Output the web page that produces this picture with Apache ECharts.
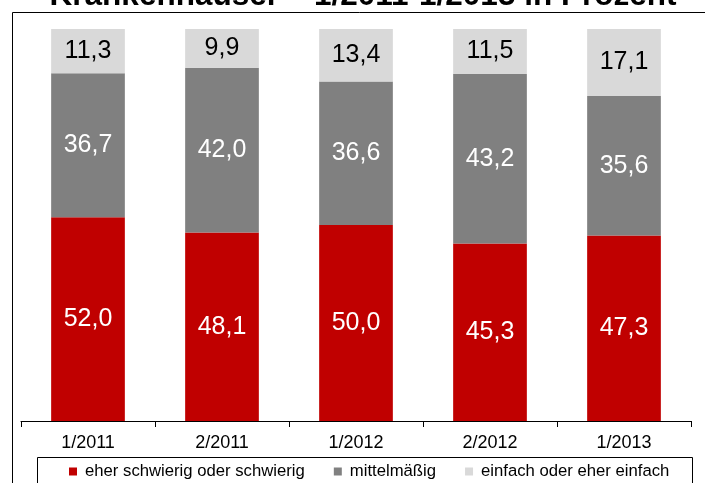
<!DOCTYPE html>
<html>
<head>
<meta charset="utf-8">
<script src="https://cdn.jsdelivr.net/npm/echarts@6/dist/echarts.min.js"></script>
<style>
    html, body { margin: 0; padding: 0; background: #fff; }
    #chart { width: 705px; height: 483px; }
</style>
</head>
<body>
<div id="chart"></div>
<script>
// Daten
const categories = ['1/2011', '2/2011', '1/2012', '2/2012', '1/2013']
const seriesNames = ['eher schwierig oder schwierig', 'mittelmäßig', 'einfach oder eher einfach']
const schwierig = [52.0, 48.1, 50.0, 45.3, 47.3]
const mittel = [36.7, 42.0, 36.6, 43.2, 35.6]
const einfach = [11.3, 9.9, 13.4, 11.5, 17.1]

const colors = ['#C00000', '#808080', '#D9D9D9']
const fontFamily = '"Liberation Sans", Arial, sans-serif'

const chart = echarts.init(document.getElementById('chart'))

// Segment-Serie erzeugen
const makeSeries = (name, data, color, labelColor) => ({
    name: name,
    type: 'bar',
    stack: 'total',
    barCategoryGap: '45%',
    data: data,
    itemStyle: { color: color },
    label: {
        show: true,
        position: 'inside',
        color: labelColor,
        fontFamily: fontFamily,
        fontSize: 25,
        formatter: (p) => p.value.toFixed(1).replace('.', ',')
    }
})

const option = {
    animation: false,
    backgroundColor: '#fff',
    grid: { left: 21, right: 14, top: 29, bottom: 62 },
    graphic: [
        {
            type: 'rect',
            shape: { x: 12.5, y: 12.5, width: 800, height: 600 },
            style: { fill: 'none', stroke: '#000', lineWidth: 1 },
            z: 0
        },
        {
            type: 'rect',
            shape: { x: 37.5, y: 457.5, width: 655, height: 100 },
            style: { fill: 'none', stroke: '#000', lineWidth: 1 },
            z: 0
        },
        {
            type: 'text',
            style: {
                text: 'Krankenhäuser – 1/2011-1/2013 in Prozent',
                x: 363,
                y: 12,
                fill: '#000',
                font: 'bold 31.5px ' + fontFamily,
                textAlign: 'center',
                textVerticalAlign: 'bottom'
            },
            z: 10
        }
    ],
    legend: {
        data: seriesNames,
        left: 69,
        top: 463,
        padding: 0,
        itemGap: 29,
        itemWidth: 8,
        itemHeight: 8,
        icon: 'rect',
        textStyle: { color: '#000', fontFamily: fontFamily, fontSize: 16.7, padding: [0, 0, 0, 3] }
    },
    xAxis: {
        type: 'category',
        data: categories,
        axisLine: { lineStyle: { color: '#000', width: 1 } },
        axisTick: { show: true, length: 6, lineStyle: { color: '#000' } },
        axisLabel: { color: '#000', fontFamily: fontFamily, fontSize: 18, margin: 13 }
    },
    yAxis: {
        type: 'value',
        min: 0,
        max: 100,
        show: false,
        splitLine: { show: false }
    },
    series: [
        makeSeries(seriesNames[0], schwierig, colors[0], '#fff'),
        makeSeries(seriesNames[1], mittel, colors[1], '#fff'),
        makeSeries(seriesNames[2], einfach, colors[2], '#000')
    ]
}

chart.setOption(option)
</script>
</body>
</html>
